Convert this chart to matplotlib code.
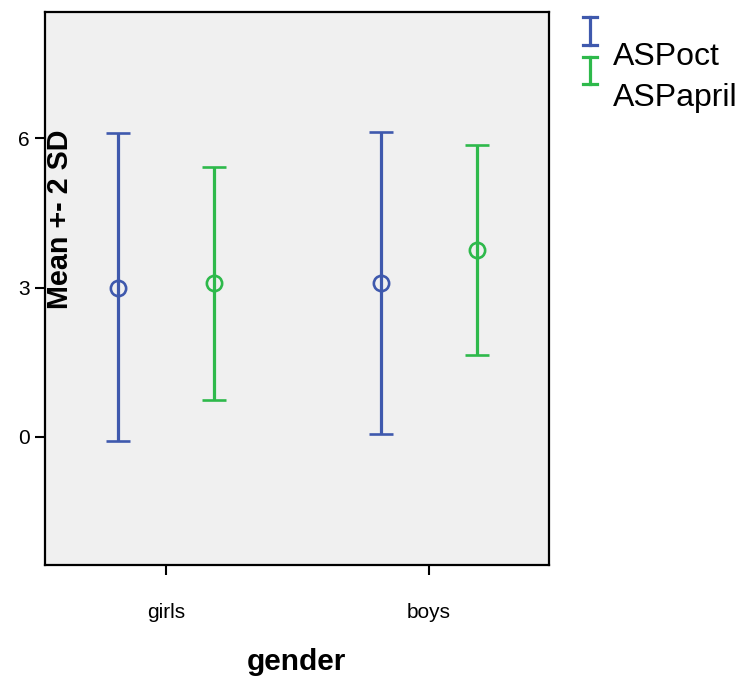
import numpy as np
import matplotlib
matplotlib.use("Agg")
import matplotlib.pyplot as plt
from matplotlib.lines import Line2D

plt.rcParams['font.family'] = ['Liberation Sans', 'DejaVu Sans']

# group means and +-2 SD limits
genders = ["girls", "boys"]
series = ["ASPoct", "ASPapril"]
means = {"ASPoct": [3.00, 3.09], "ASPapril": [3.09, 3.75]}
lower = {"ASPoct": [-0.08, 0.06], "ASPapril": [0.74, 1.65]}
upper = {"ASPoct": [6.10, 6.12], "ASPapril": [5.42, 5.86]}
yticks = [0, 3, 6]

colors = {"ASPoct": "#3f59ad", "ASPapril": "#2eb94b"}
offsets = {"ASPoct": -0.183, "ASPapril": 0.183}

fig = plt.figure(figsize=(7.38, 6.77), dpi=100)
ax = fig.add_axes([45 / 738, 1 - 565 / 677, (549 - 45) / 738, (565 - 12) / 677])
ax.set_facecolor("#f0f0f0")

x = np.arange(len(genders))
for s in series:
    m = np.array(means[s])
    lo = m - np.array(lower[s])
    hi = np.array(upper[s]) - m
    ax.errorbar(x + offsets[s], m, yerr=[lo, hi], fmt='o', color=colors[s],
                mfc='none', mec=colors[s], ms=11, mew=1.9,
                elinewidth=2.3, capsize=8.6, capthick=2.3)

ax.set_xlim(-0.46, 1.456)
ax.set_ylim(-2.57, 8.53)
ax.set_xticks(x)
ax.set_xticklabels(genders, fontsize=15)
ax.set_yticks(yticks)
ax.set_yticklabels([str(t) for t in yticks], fontsize=15)
ax.tick_params(axis='both', length=7, width=1.5, direction='out')
ax.tick_params(axis='x', pad=20)
ax.tick_params(axis='y', pad=4)
for sp in ax.spines.values():
    sp.set_linewidth(1.6)

fig.text(296 / 738, 1 - 662 / 677, "gender", fontsize=21.5, fontweight='bold',
         ha='center', va='center')
fig.text(60 / 738, 1 - 219 / 677, "Mean +- 2 SD", fontsize=20.7, fontweight='bold',
         rotation=90, ha='center', va='center')

# legend drawn as small error bar glyphs with labels below-right
W, H = 738, 677
glyphs = [("ASPoct", 17, 45, 57), ("ASPapril", 57, 84, 98)]
for s, y0, y1, ty in glyphs:
    c = colors[s]
    fig.add_artist(Line2D([590 / W, 590 / W], [1 - y0 / H, 1 - y1 / H], color=c, lw=2.3))
    for yy in (y0, y1):
        fig.add_artist(Line2D([583 / W, 597 / W], [1 - yy / H, 1 - yy / H], color=c, lw=2.3))
    fig.text(613 / W, 1 - ty / H, s, fontsize=23, ha='left', va='center')

fig.savefig("out.png", dpi=100)
